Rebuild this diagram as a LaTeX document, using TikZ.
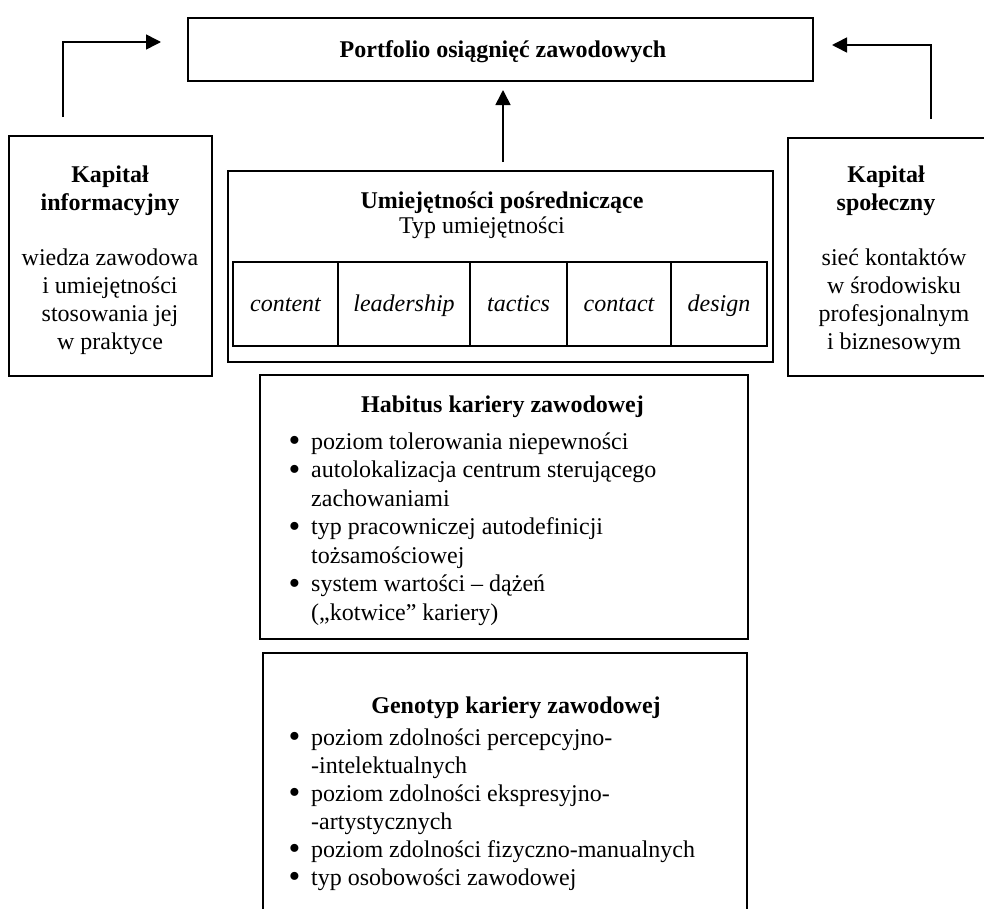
\documentclass[tikz,border=0pt]{standalone}
\usepackage{fontspec}
\usepackage{graphicx}
\setmainfont{Liberation Serif}
\usetikzlibrary{arrows.meta}
\newcommand\fsz{\fontsize{24bp}{28.5bp}\selectfont}
\newcommand\fszb{\fontsize{24bp}{28bp}\selectfont}
\newcommand\bul{\makebox[22bp][l]{\hspace*{-0.5bp}\raisebox{-2.8bp}{\smash{\scalebox{1.4}{\textbullet}}}}}
\begin{document}
\begin{tikzpicture}[x=1bp,y=-1bp,
  box/.style={draw, line width=1.6bp, inner sep=0pt},
  cell/.style={draw, line width=1.6bp, inner sep=0pt, minimum height=84bp,
    font=\fsz\itshape, text height=18bp, text depth=4bp},
  txt/.style={inner sep=0pt, font=\fsz, anchor=base},
  lst/.style={inner sep=0pt, font=\fsz, anchor=base west},
  arr/.style={line width=1.6bp, -{Triangle[length=15bp,width=15bp]}},
]
\useasboundingbox (0,0) rectangle (984,909);
\clip (0,0) rectangle (984,909);

% boxes
\node[box, minimum width=625bp, minimum height=63bp] (portfolio) at (500.5,49.5) {};
\node[box, minimum width=203bp, minimum height=240bp] (kinf) at (110.5,256) {};
\node[box, minimum width=212bp, minimum height=238bp] (kspol) at (894,257) {};
\node[box, minimum width=545bp, minimum height=191bp] (umiej) at (500.5,266.5) {};
\node[box, minimum width=488bp, minimum height=264bp] (habitus) at (504,507) {};
\node[box, minimum width=484bp, minimum height=307bp] (genotyp) at (505,806.5) {};

% table cells
\node[cell, minimum width=105bp] (c1) at (285.5,304) {content};
\node[cell, minimum width=132bp] (c2) at (404,304) {leadership};
\node[cell, minimum width=97bp] (c3) at (518.5,304) {tactics};
\node[cell, minimum width=104bp] (c4) at (619,304) {contact};
\node[cell, minimum width=96bp] (c5) at (719,304) {design};

% texts
\node[txt] (tport) at (503,57) {\bfseries Portfolio osiągnięć zawodowych};

\node[txt, font=\fszb] (tkinf) at (110,182) {\begin{tabular}[t]{@{}c@{}}\bfseries Kapitał\\ \bfseries informacyjny\end{tabular}};
\node[txt, font=\fszb] (bkinf) at (110,265) {\begin{tabular}[t]{@{}c@{}}wiedza zawodowa\\ i umiejętności\\ stosowania jej\\ w praktyce\end{tabular}};

\node[txt, font=\fszb] (tkspol) at (886,182) {\begin{tabular}[t]{@{}c@{}}\bfseries Kapitał\\ \bfseries społeczny\end{tabular}};
\node[txt, font=\fszb] (bkspol) at (894,265) {\begin{tabular}[t]{@{}c@{}}sieć kontaktów\\ w środowisku\\ profesjonalnym\\ i biznesowym\end{tabular}};

\node[txt] (tumiej) at (502,208) {\bfseries Umiejętności pośredniczące};
\node[txt] (sumiej) at (482,233) {Typ umiejętności};

\node[txt] (thab) at (502.5,412) {\bfseries Habitus kariery zawodowej};
\node[lst] (lhab) at (289,449) {\begin{tabular}[t]{@{}l@{}l@{}}
\bul & poziom tolerowania niepewności\\
\bul & autolokalizacja centrum sterującego\\
 & zachowaniami\\
\bul & typ pracowniczej autodefinicji\\
 & tożsamościowej\\
\bul & system wartości – dążeń\\
 & („kotwice” kariery)
\end{tabular}};

\node[txt] (tgen) at (516,713) {\bfseries Genotyp kariery zawodowej};
\node[lst, font=\fszb] (lgen) at (289,745) {\begin{tabular}[t]{@{}l@{}l@{}}
\bul & poziom zdolności percepcyjno-\\
 & -intelektualnych\\
\bul & poziom zdolności ekspresyjno-\\
 & -artystycznych\\
\bul & poziom zdolności fizyczno-manualnych\\
\bul & typ osobowości zawodowej
\end{tabular}};

% arrows
\coordinate (la0) at (63,117);
\coordinate (la1) at (63,42);
\coordinate (la2) at (161,42);
\draw[arr] (la0) -- (la1) -- (la2);
\coordinate (ra0) at (931,119);
\coordinate (ra1) at (931,45);
\coordinate (ra2) at (832,45);
\draw[arr] (ra0) -- (ra1) -- (ra2);
\coordinate (ma0) at (503,162);
\coordinate (ma1) at (503,90);
\draw[arr] (ma0) -- (ma1);
\end{tikzpicture}
\end{document}
